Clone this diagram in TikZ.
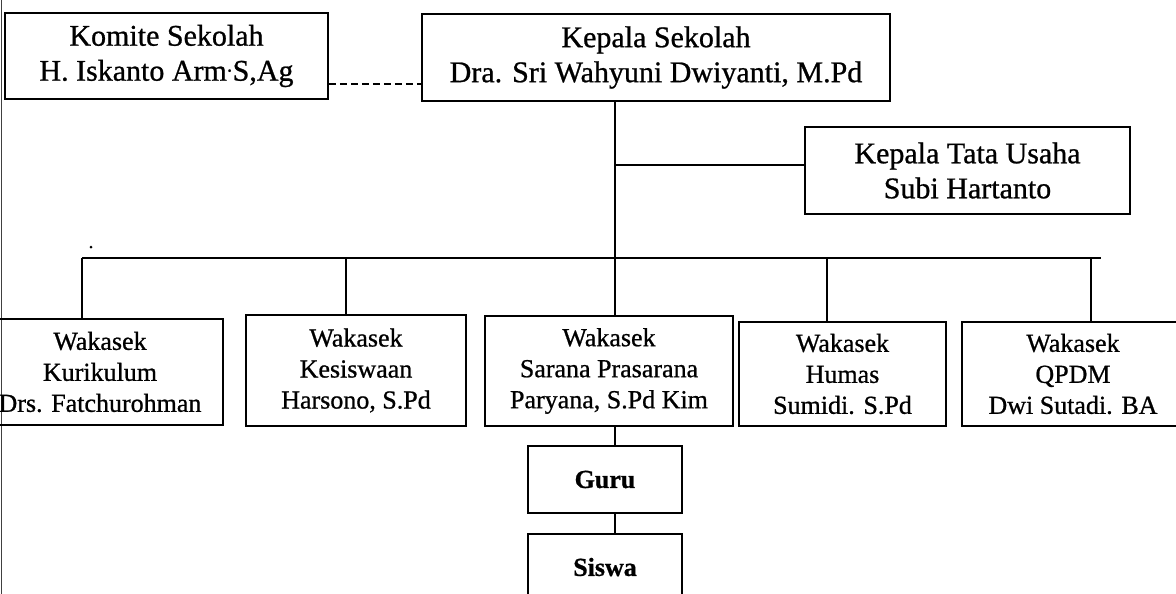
\documentclass[tikz,border=0pt]{standalone}
\usepackage{fontspec}
\setmainfont{Liberation Serif}[FakeBold=0.8]
\begin{document}
\begin{tikzpicture}[x=1pt,y=-1pt,
  box/.style={draw=black, line width=1.6pt, inner sep=0pt, align=center, font=\fontsize{30}{35}\selectfont},
  rowbox/.style={box, font=\fontsize{26}{31}\selectfont},
  smallbox/.style={box, font=\fontsize{26}{31}\selectfont\bfseries},
  conn/.style={line width=1.6pt, black},
  dashconn/.style={line width=1.6pt, black, dash pattern=on 7pt off 4pt}]
\useasboundingbox (0,0) rectangle (1176,594);
\fill[white] (0,0) rectangle (1176,594);
\clip (0,0) rectangle (1176,594);
% page edge
\draw[line width=1.2pt, black!75] (1.5,0) -- (1.5,594);
% top row
\node[box, minimum width=323pt, minimum height=86pt] (komite) at (166.5,56) {Komite Sekolah\\H. Iskanto Arm\textsuperscript{.}S,Ag};
\node[box, minimum width=468pt, minimum height=87pt] (kepala) at (656,57.5) {Kepala Sekolah\\Dra. Sri Wahyuni Dwiyanti, M.Pd};
\node[box, minimum width=325pt, minimum height=87pt] (ktu) at (967.5,170.5) {Kepala Tata Usaha\\Subi Hartanto};
% wakasek row
\node[rowbox, minimum width=246pt, minimum height=106pt] (kur) at (100,372) {Wakasek\\Kurikulum\\Drs. Fatchurohman};
\node[rowbox, minimum width=220pt, minimum height=111pt] (kes) at (356,370.5) {Wakasek\\Kesiswaan\\Harsono, S.Pd};
\node[rowbox, minimum width=248pt, minimum height=110pt] (sar) at (609,371) {Wakasek\\Sarana Prasarana\\Paryana, S.Pd Kim};
\node[rowbox, minimum width=207pt, minimum height=104pt] (hum) at (842.5,374) {Wakasek\\Humas\\Sumidi. S.Pd};
\node[rowbox, minimum width=222pt, minimum height=104pt] (qpdm) at (1073,374) {Wakasek\\QPDM\\Dwi Sutadi. BA};
% guru / siswa
\node[smallbox, minimum width=154pt, minimum height=67pt] (guru) at (605,479.5) {Guru};
\node[smallbox, minimum width=154pt, minimum height=66pt] (siswa) at (605,567) {Siswa};
% coordinates
\coordinate (tx) at (615,0);
\coordinate (barL) at (82,258);
\coordinate (barR) at (1101,258);
\coordinate (x1) at (82,0);
\coordinate (x2) at (346,0);
\coordinate (x4) at (827,0);
\coordinate (x5) at (1091,0);
\coordinate (dy) at (0,84);
% connectors
\draw[dashconn] (komite.east |- dy) -- (kepala.west |- dy);
\draw[conn] (kepala.south -| tx) -- (sar.north -| tx);
\draw[conn] (tx |- ktu.west) ++(0,-5.5) -- ([yshift=5.5pt]ktu.west);
\draw[conn] (barL) -- (barR);
\draw[conn] (x1 |- barL) -- (x1 |- kur.north);
\draw[conn] (x2 |- barL) -- (x2 |- kes.north);
\draw[conn] (x4 |- barL) -- (x4 |- hum.north);
\draw[conn] (x5 |- barL) -- (x5 |- qpdm.north);
\draw[conn] (sar.south -| tx) -- (guru.north -| tx);
\draw[conn] (guru.south -| tx) -- (siswa.north -| tx);
% stray mark
\fill (91,247) circle (1.5pt);
\end{tikzpicture}
\end{document}
